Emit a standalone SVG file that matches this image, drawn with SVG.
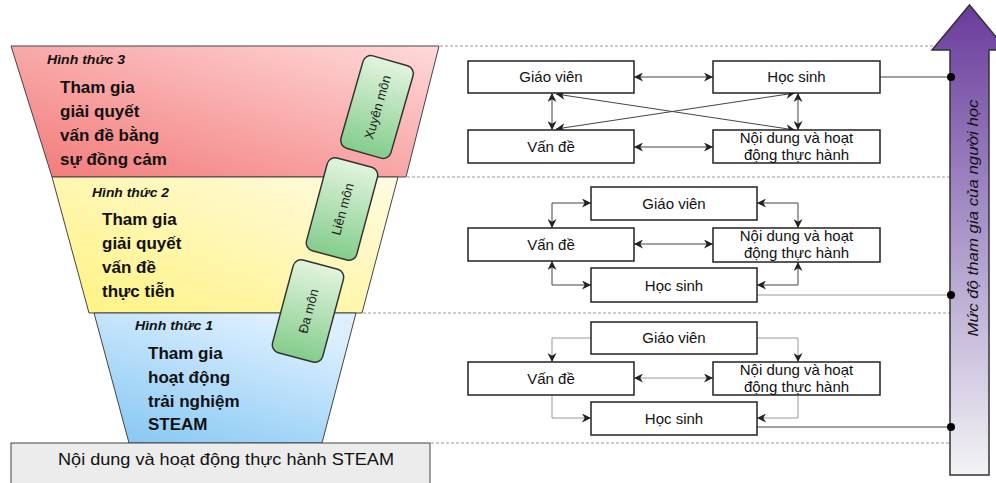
<svg xmlns="http://www.w3.org/2000/svg" width="996" height="483" viewBox="0 0 996 483">
<defs>
<linearGradient id="gRed" x1="0" y1="1" x2="1" y2="0"><stop offset="0" stop-color="#f27878"/><stop offset="1" stop-color="#ffd9d9"/></linearGradient>
<linearGradient id="gYel" x1="0" y1="1" x2="1" y2="0"><stop offset="0" stop-color="#fff280"/><stop offset="1" stop-color="#fffbe2"/></linearGradient>
<linearGradient id="gBlu" x1="0" y1="1" x2="0.6" y2="0"><stop offset="0" stop-color="#82c6f2"/><stop offset="1" stop-color="#dcefff"/></linearGradient>
<linearGradient id="gGrn" x1="0" y1="0" x2="0" y2="1"><stop offset="0" stop-color="#e2f4de"/><stop offset="1" stop-color="#84cd8c"/></linearGradient>
<linearGradient id="gArr" x1="0" y1="0" x2="0" y2="1"><stop offset="0" stop-color="#6a3b9c"/><stop offset="0.45" stop-color="#a590c6"/><stop offset="1" stop-color="#f3f3f5"/></linearGradient>
<marker id="a" viewBox="0 0 10 10" refX="10" refY="5" markerWidth="9" markerHeight="9" markerUnits="userSpaceOnUse" orient="auto-start-reverse"><path d="M0,0 L10,5 L0,10 L3,5 z" fill="#222"/></marker>
</defs>
<style>
.t{font-family:"Liberation Sans",Arial,sans-serif;fill:#111}
.hd{font-size:12.5px;font-weight:bold;font-style:italic}
.big{font-size:17px;font-weight:bold}
.bx{fill:#fff;stroke:#222;stroke-width:1.5}
.bt{font-size:15px;text-anchor:middle}
.gb{fill:url(#gGrn);stroke:#333;stroke-width:1.5}
.gt{font-size:13px;text-anchor:middle;fill:#222}
.c{fill:none;stroke:#444;stroke-width:1}
.cl{fill:none;stroke:#999;stroke-width:1}
.d{stroke:#999;stroke-width:1;stroke-dasharray:3 2}
</style>

<g id="level3">
<polygon points="11,46 439,46 406,177 52,177" fill="url(#gRed)" stroke="#444" stroke-width="1"/>
<text class="t hd" x="47" y="64" textLength="78" lengthAdjust="spacingAndGlyphs">Hình thức 3</text>
<text class="t big" x="60" y="93">Tham gia</text>
<text class="t big" x="60" y="117">giải quyết</text>
<text class="t big" x="60" y="141">vấn đề bằng</text>
<text class="t big" x="60" y="165">sự đồng cảm</text>
</g>
<g id="level2">
<polygon points="52,177 398,177 362,313 89,313" fill="url(#gYel)" stroke="#444" stroke-width="1"/>
<text class="t hd" x="92" y="197" textLength="77" lengthAdjust="spacingAndGlyphs">Hình thức 2</text>
<text class="t big" x="102" y="225">Tham gia</text>
<text class="t big" x="102" y="249">giải quyết</text>
<text class="t big" x="102" y="273">vấn đề</text>
<text class="t big" x="102" y="297">thực tiễn</text>
</g>
<g id="level1">
<polygon points="94,313 356,313 322,443 129,443" fill="url(#gBlu)" stroke="#444" stroke-width="1"/>
<text class="t hd" x="135" y="330" textLength="78" lengthAdjust="spacingAndGlyphs">Hình thức 1</text>
<text class="t big" x="148" y="359">Tham gia</text>
<text class="t big" x="148" y="383">hoạt động</text>
<text class="t big" x="148" y="407">trải nghiệm</text>
<text class="t big" x="148" y="430">STEAM</text>
</g>
<g id="base">
<rect x="11" y="443" width="419" height="50" fill="#ececec" stroke="#444" stroke-width="1"/>
<text class="t" x="226" y="465" font-size="17" text-anchor="middle" textLength="336" lengthAdjust="spacingAndGlyphs">Nội dung và hoạt động thực hành STEAM</text>
</g>

<g id="xuyenmon" transform="translate(377,107) rotate(16)">
<rect class="gb" x="-26" y="-48" width="52" height="96" rx="8"/>
<text class="t gt" transform="rotate(-90) translate(0,5)">Xuyên môn</text>
</g>
<g id="lienmon" transform="translate(342,209) rotate(15)">
<rect class="gb" x="-26" y="-48" width="52" height="96" rx="8"/>
<text class="t gt" transform="rotate(-90) translate(0,5)">Liên môn</text>
</g>
<g id="damon" transform="translate(308,311) rotate(15)">
<rect class="gb" x="-26" y="-48" width="52" height="96" rx="8"/>
<text class="t gt" transform="rotate(-90) translate(0,5)">Đa môn</text>
</g>

<g id="separators">
<line class="d" x1="440" y1="46" x2="950" y2="46"/>
<line class="d" x1="407" y1="177" x2="950" y2="177"/>
<line class="d" x1="363" y1="313" x2="950" y2="313"/>
<line class="d" x1="431" y1="443" x2="950" y2="443"/>
</g>

<g id="arrow">
<polygon points="950,475 989,475 989,50 1007,50 969.5,5 932,50 950,50" fill="url(#gArr)" stroke="#333" stroke-width="1.5"/>
<text class="t" transform="translate(978,218) rotate(-90)" font-size="15" font-style="italic" text-anchor="middle" textLength="237" lengthAdjust="spacingAndGlyphs">Mức độ tham gia của người học</text>
</g>

<g id="connectors">
<line class="c" x1="634" y1="77" x2="713" y2="77" marker-start="url(#a)" marker-end="url(#a)"/>
<line class="c" x1="634" y1="147" x2="713" y2="147" marker-start="url(#a)" marker-end="url(#a)"/>
<line class="c" x1="552" y1="93" x2="552" y2="130" marker-start="url(#a)" marker-end="url(#a)"/>
<line class="c" x1="798" y1="93" x2="798" y2="130" marker-start="url(#a)" marker-end="url(#a)"/>
<line class="c" x1="556" y1="94" x2="795" y2="130" marker-start="url(#a)" marker-end="url(#a)"/>
<line class="c" x1="556" y1="129" x2="795" y2="93" marker-start="url(#a)" marker-end="url(#a)"/>
<line class="c" x1="880" y1="77" x2="951" y2="77"/>

<path class="c" d="M591,203 H552 V228" marker-start="url(#a)" marker-end="url(#a)"/>
<path class="c" d="M757,203 H798 V228" marker-start="url(#a)" marker-end="url(#a)"/>
<line class="c" x1="634" y1="244" x2="713" y2="244" marker-start="url(#a)" marker-end="url(#a)"/>
<path class="c" d="M552,261 V285 H591" marker-start="url(#a)" marker-end="url(#a)"/>
<path class="c" d="M798,262 V285 H757" marker-start="url(#a)" marker-end="url(#a)"/>
<line class="cl" x1="757" y1="295" x2="951" y2="295"/>

<path class="cl" d="M591,338 H552 V362" marker-end="url(#a)"/>
<path class="cl" d="M757,338 H798 V362" marker-end="url(#a)"/>
<line class="cl" x1="634" y1="378" x2="713" y2="378" marker-start="url(#a)" marker-end="url(#a)"/>
<path class="cl" d="M552,395 V418 H591" marker-end="url(#a)"/>
<path class="cl" d="M798,395 V418 H757" marker-end="url(#a)"/>
<line class="c" x1="757" y1="427" x2="951" y2="427" stroke="#777"/>

<circle cx="951" cy="77" r="4" fill="#000"/>
<circle cx="951" cy="295" r="4" fill="#000"/>
<circle cx="951" cy="427" r="4" fill="#000"/>
</g>

<g id="r1-gv"><rect class="bx" x="468" y="61" width="166" height="32"/><text class="t bt" x="551" y="82">Giáo viên</text></g>
<g id="r1-hs"><rect class="bx" x="713" y="61" width="167" height="32"/><text class="t bt" x="796.5" y="82">Học sinh</text></g>
<g id="r1-vd"><rect class="bx" x="468" y="130" width="166" height="33"/><text class="t bt" x="551" y="152">Vấn đề</text></g>
<g id="r1-nd"><rect class="bx" x="713" y="130" width="167" height="33"/><text class="t bt" x="796.5" y="143">Nội dung và hoạt</text><text class="t bt" x="796.5" y="160">động thực hành</text></g>

<g id="r2-gv"><rect class="bx" x="591" y="187" width="166" height="33"/><text class="t bt" x="674" y="209">Giáo viên</text></g>
<g id="r2-vd"><rect class="bx" x="468" y="228" width="166" height="33"/><text class="t bt" x="551" y="250">Vấn đề</text></g>
<g id="r2-nd"><rect class="bx" x="713" y="228" width="167" height="34"/><text class="t bt" x="796.5" y="241">Nội dung và hoạt</text><text class="t bt" x="796.5" y="258">động thực hành</text></g>
<g id="r2-hs"><rect class="bx" x="591" y="268" width="166" height="34"/><text class="t bt" x="674" y="291">Học sinh</text></g>

<g id="r3-gv"><rect class="bx" x="591" y="322" width="166" height="32"/><text class="t bt" x="674" y="343">Giáo viên</text></g>
<g id="r3-vd"><rect class="bx" x="468" y="362" width="166" height="33"/><text class="t bt" x="551" y="384">Vấn đề</text></g>
<g id="r3-nd"><rect class="bx" x="713" y="362" width="167" height="33"/><text class="t bt" x="796.5" y="375">Nội dung và hoạt</text><text class="t bt" x="796.5" y="392">động thực hành</text></g>
<g id="r3-hs"><rect class="bx" x="591" y="402" width="166" height="33"/><text class="t bt" x="674" y="424">Học sinh</text></g>
</svg>
